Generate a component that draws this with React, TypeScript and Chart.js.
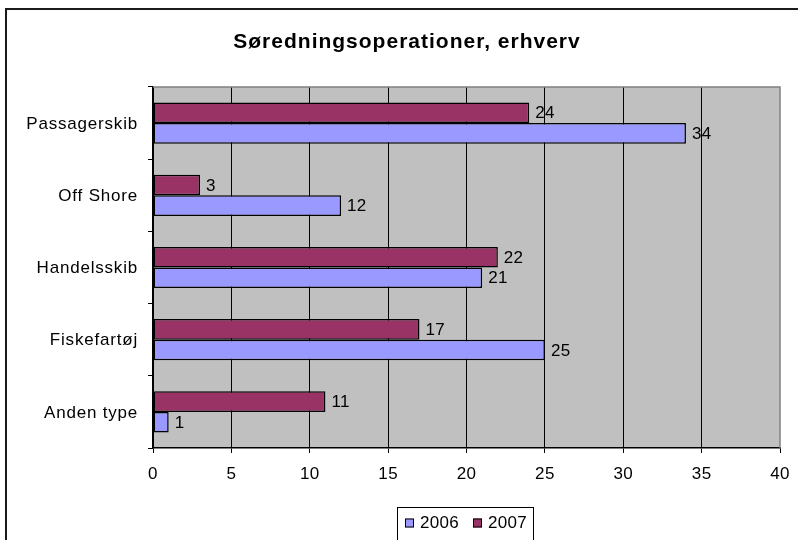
import React, { useEffect, useRef } from "react";
import { Chart, registerables } from "chart.js";

Chart.register(...registerables);

const TITLE = "Søredningsoperationer, erhverv";
const CATEGORIES = ["Passagerskib", "Off Shore", "Handelsskib", "Fiskefartøj", "Anden type"];
const SERIES_2006 = [34, 12, 21, 25, 1];
const SERIES_2007 = [24, 3, 22, 17, 11];
const LABEL_2006 = "2006";
const LABEL_2007 = "2007";
const X_MIN = 0;
const X_MAX = 40;
const X_STEP = 5;

const FONT = "'Liberation Sans', Arial, sans-serif";
const COLOR_2006 = "#9999FF";
const COLOR_2007 = "#993366";

function setSpacing(ctx: any, px: number) {
  try {
    ctx.letterSpacing = `${px}px`;
  } catch (e) {
    /* ignore */
  }
}

const decorPlugin = {
  id: "decor",
  beforeDraw(chart: any) {
    const { ctx, chartArea } = chart;
    ctx.save();
    ctx.fillStyle = "#ffffff";
    ctx.fillRect(0, 0, chart.width, chart.height);
    ctx.fillStyle = "#C0C0C0";
    ctx.fillRect(chartArea.left, chartArea.top, chartArea.right - chartArea.left, chartArea.bottom - chartArea.top);
    ctx.restore();
  },
  afterDraw(chart: any) {
    const { ctx, chartArea } = chart;
    const xs = chart.scales.x;
    const ys = chart.scales.y;
    ctx.save();
    // plot area border (top/right grey)
    ctx.strokeStyle = "#808080";
    ctx.lineWidth = 1.5;
    ctx.beginPath();
    ctx.moveTo(chartArea.left, chartArea.top);
    ctx.lineTo(chartArea.right, chartArea.top);
    ctx.lineTo(chartArea.right, chartArea.bottom);
    ctx.stroke();

    // title
    ctx.fillStyle = "#000";
    ctx.font = `bold 21px ${FONT}`;
    setSpacing(ctx, 1);
    ctx.textAlign = "center";
    ctx.textBaseline = "middle";
    ctx.fillText(TITLE, 407, 42);

    // y category labels
    ctx.font = `17px ${FONT}`;
    setSpacing(ctx, 0.8);
    ctx.textAlign = "right";
    ctx.textBaseline = "middle";
    CATEGORIES.forEach((c, i) => {
      ctx.fillText(c, 138, ys.getPixelForValue(i) + 1);
    });

    // x tick labels
    setSpacing(ctx, 0.3);
    ctx.textAlign = "center";
    for (let v = X_MIN; v <= X_MAX; v += X_STEP) {
      ctx.fillText(String(v), xs.getPixelForValue(v), 474);
    }

    // outer border
    ctx.strokeStyle = "#1a1a1a";
    ctx.lineWidth = 2;
    ctx.beginPath();
    ctx.moveTo(6, chart.height + 5);
    ctx.lineTo(6, 9);
    ctx.lineTo(chart.width + 5, 9);
    ctx.stroke();

    // legend
    const lx = 397, ly = 507, lw = 136, lh = 40;
    ctx.strokeStyle = "#000";
    ctx.lineWidth = 1;
    ctx.strokeRect(lx + 0.5, ly + 0.5, lw, lh);
    ctx.font = `17px ${FONT}`;
    setSpacing(ctx, 0.3);
    ctx.textAlign = "left";
    ctx.textBaseline = "middle";
    const items = [
      { label: LABEL_2006, color: COLOR_2006, x: 405 },
      { label: LABEL_2007, color: COLOR_2007, x: 473 },
    ];
    const cy = 523;
    for (const it of items) {
      ctx.fillStyle = it.color;
      ctx.fillRect(it.x, cy - 4.5, 9, 9);
      ctx.strokeStyle = "#000";
      ctx.strokeRect(it.x + 0.5, cy - 4.5 + 0.5, 8, 8);
      ctx.fillStyle = "#000";
      ctx.fillText(it.label, it.x + 15, cy);
    }
    ctx.restore();
  },
  afterDatasetsDraw(chart: any) {
    const { ctx } = chart;
    ctx.save();
    ctx.fillStyle = "#000";
    ctx.font = `17px ${FONT}`;
    setSpacing(ctx, 0.3);
    ctx.textAlign = "left";
    ctx.textBaseline = "middle";
    chart.data.datasets.forEach((ds: any, di: number) => {
      const meta = chart.getDatasetMeta(di);
      meta.data.forEach((bar: any, i: number) => {
        ctx.fillText(String(ds.data[i]), bar.x + 6, bar.y + 1);
      });
    });
    ctx.restore();
  },
};

export default function App() {
  const ref = useRef<HTMLCanvasElement | null>(null);
  useEffect(() => {
    if (!ref.current) return;
    const chart = new Chart(ref.current, {
      type: "bar",
      data: {
        labels: CATEGORIES,
        datasets: [
          {
            label: LABEL_2007,
            data: SERIES_2007,
            backgroundColor: COLOR_2007,
            borderColor: "#000",
            borderWidth: 1.5,
            borderSkipped: false,
            categoryPercentage: 0.57,
            barPercentage: 1,
          },
          {
            label: LABEL_2006,
            data: SERIES_2006,
            backgroundColor: COLOR_2006,
            borderColor: "#000",
            borderWidth: 1.5,
            borderSkipped: false,
            categoryPercentage: 0.57,
            barPercentage: 1,
          },
        ],
      },
      plugins: [decorPlugin],
      options: {
        indexAxis: "y",
        animation: false,
        responsive: false,
        maintainAspectRatio: false,
        devicePixelRatio: 1,
        layout: { padding: { left: 0, right: 18, top: 87, bottom: 0 } },
        plugins: {
          legend: { display: false },
          title: { display: false },
          tooltip: { enabled: false },
        },
        scales: {
          x: {
            type: "linear",
            min: X_MIN,
            max: X_MAX,
            ticks: {
              stepSize: X_STEP,
              color: "rgba(0,0,0,0)",
              font: { family: FONT, size: 14 },
              padding: 8,
            },
            grid: {
              color: (c: any) => (c.tick && c.tick.value === X_MAX ? "rgba(0,0,0,0)" : "#000"),
              lineWidth: 1,
              tickLength: 5,
              tickColor: "#000",
            },
            border: { display: true, color: "#000", width: 1.5 },
            afterFit(scale: any) {
              scale.height = 92;
            },
          },
          y: {
            type: "category",
            offset: true,
            ticks: {
              color: "rgba(0,0,0,0)",
              font: { family: FONT, size: 14 },
              padding: 10,
            },
            grid: {
              offset: true,
              drawOnChartArea: false,
              tickLength: 5,
              tickColor: "#000",
              color: "#000",
            },
            border: { display: true, color: "#000", width: 1.5 },
            afterFit(scale: any) {
              scale.width = 153;
            },
          },
        },
      },
    });
    return () => chart.destroy();
  }, []);
  return (
    <div style={{ position: "absolute", left: 0, top: 0, width: 798, height: 540 }}>
      <canvas ref={ref} width={798} height={540} style={{ width: 798, height: 540, display: "block" }} />
    </div>
  );
}
